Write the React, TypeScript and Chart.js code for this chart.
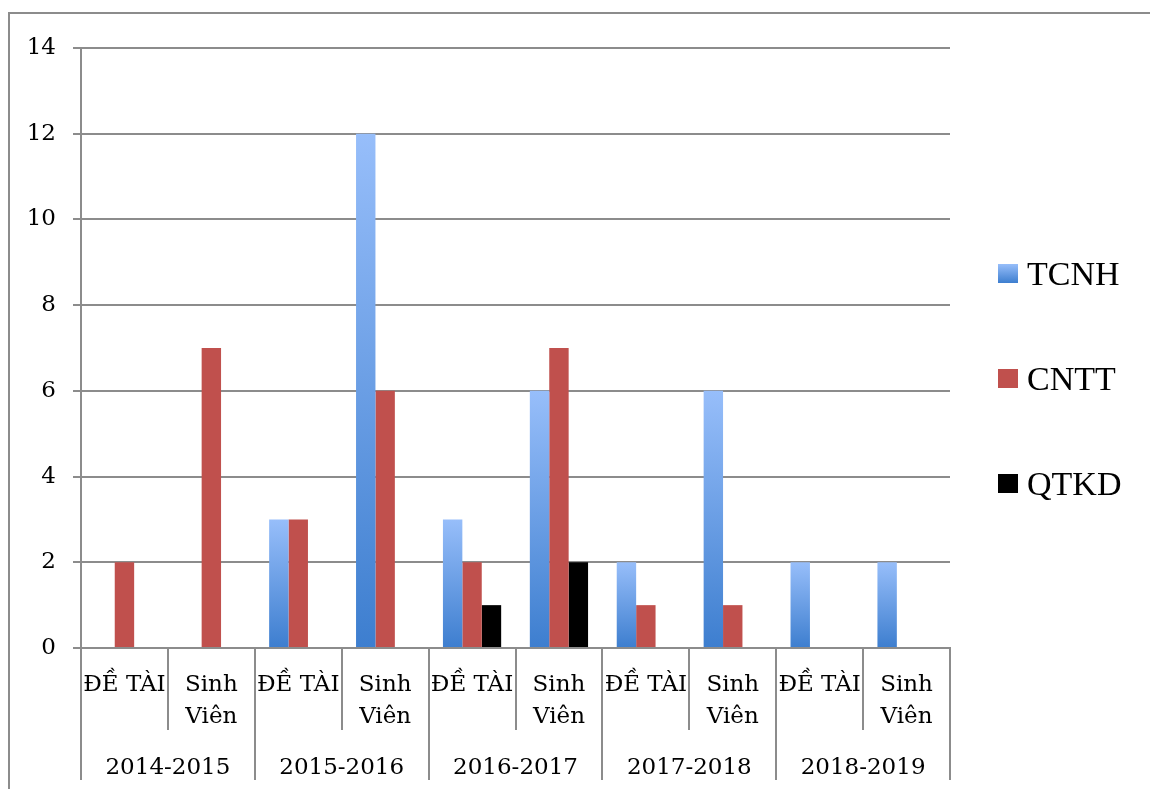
import React, { useEffect, useRef } from "react";
import { Chart, registerables } from "chart.js";

Chart.register(...registerables);

// ---- data ----
const subCategories: (string | string[])[] = [
  "ĐỀ TÀI", ["Sinh", "Viên"],
  "ĐỀ TÀI", ["Sinh", "Viên"],
  "ĐỀ TÀI", ["Sinh", "Viên"],
  "ĐỀ TÀI", ["Sinh", "Viên"],
  "ĐỀ TÀI", ["Sinh", "Viên"],
];
const years = ["2014-2015", "2015-2016", "2016-2017", "2017-2018", "2018-2019"];
const seriesNames = ["TCNH", "CNTT", "QTKD"];
const tcnhValues = [0, 0, 3, 12, 3, 6, 2, 6, 2, 2];
const cnttValues = [2, 7, 3, 6, 2, 7, 1, 1, 0, 0];
const qtkdValues = [0, 0, 0, 0, 1, 2, 0, 0, 0, 0];
const yMin = 0;
const yMax = 14;
const yStep = 2;

const GRID = "#8c8c8c";
const BLUE_TOP = "#97befa";
const BLUE_BOTTOM = "#3d7ecf";
const RED = "#c0504d";
const BLACK = "#000000";
const AXIS_FONT = { family: "'DejaVu Serif', serif", size: 23 };

function blueGradient(ctx: any) {
  const chart = ctx.chart;
  const { chartArea, scales } = chart;
  if (!chartArea || ctx.type !== "data" || !scales.y) return "#6a9fea";
  const v = ctx.raw as number;
  const top = scales.y.getPixelForValue(v);
  const base = scales.y.getPixelForValue(0);
  if (!(base > top)) return "#6a9fea";
  const g = chart.ctx.createLinearGradient(0, top, 0, base);
  g.addColorStop(0, BLUE_TOP);
  g.addColorStop(1, BLUE_BOTTOM);
  return g;
}

const sideLegend = {
  id: "sideLegend",
  afterDraw(chart: any) {
    const { ctx, chartArea } = chart;
    const x = chartArea.right + 48;
    const midY = (chartArea.top + chartArea.bottom) / 2 + 31;
    const gap = 105;
    const datasets = chart.data.datasets;
    ctx.save();
    datasets.forEach((ds: any, i: number) => {
      const cy = midY + (i - (datasets.length - 1) / 2) * gap;
      const bx = x, by = cy - 10, bw = 20, bh = 19;
      if (i === 0) {
        const g = ctx.createLinearGradient(0, by, 0, by + bh);
        g.addColorStop(0, BLUE_TOP);
        g.addColorStop(1, BLUE_BOTTOM);
        ctx.fillStyle = g;
      } else {
        ctx.fillStyle = ds.legendColor;
      }
      ctx.fillRect(bx, by, bw, bh);
      ctx.fillStyle = "#000";
      ctx.font = "34px 'Liberation Serif', serif";
      ctx.textBaseline = "middle";
      ctx.textAlign = "left";
      ctx.fillText(ds.label, bx + 29, cy + 2);
    });
    ctx.restore();
  },
};

export default function App() {
  const canvasRef = useRef<HTMLCanvasElement | null>(null);

  useEffect(() => {
    if (!canvasRef.current) return;
    const chart = new Chart(canvasRef.current, {
      type: "bar",
      data: {
        labels: subCategories as any,
        datasets: [
          { label: seriesNames[0], data: tcnhValues, backgroundColor: blueGradient as any, legendColor: BLUE_BOTTOM } as any,
          { label: seriesNames[1], data: cnttValues, backgroundColor: RED, legendColor: RED } as any,
          { label: seriesNames[2], data: qtkdValues, backgroundColor: BLACK, legendColor: BLACK } as any,
        ],
      },
      options: {
        responsive: false,
        animation: false,
        devicePixelRatio: 1,
        layout: { padding: { left: 0, top: 48, right: 200, bottom: 9 } },
        datasets: { bar: { categoryPercentage: 0.67, barPercentage: 1.0, borderWidth: 0 } },
        plugins: {
          legend: { display: false },
          tooltip: { enabled: false },
          title: { display: false },
        },
        scales: {
          y: {
            min: yMin,
            max: yMax,
            ticks: { stepSize: yStep, color: "#000", font: AXIS_FONT, padding: 17 },
            grid: { color: GRID, lineWidth: 2, tickLength: 8, drawTicks: true },
            border: { display: true, color: GRID, width: 2 },
            afterFit: (s: any) => { s.width = 81; },
          },
          x: {
            position: "bottom",
            weight: 0,
            offset: true,
            ticks: {
              color: "#000",
              font: { ...AXIS_FONT, lineHeight: 1.35 },
              padding: -60,
              autoSkip: false,
              maxRotation: 0,
              minRotation: 0,
            },
            grid: { offset: true, drawOnChartArea: false, color: GRID, lineWidth: 2, tickLength: 82 },
            border: { display: true, color: GRID, width: 2 },
            afterFit: (s: any) => { s.height = 82; },
          },
          x2: {
            type: "category",
            labels: years,
            position: "bottom",
            weight: 1,
            offset: true,
            ticks: {
              color: "#000",
              font: { ...AXIS_FONT, lineHeight: 1.2 },
              padding: -26,
              autoSkip: false,
              maxRotation: 0,
              minRotation: 0,
            },
            grid: { offset: true, drawOnChartArea: false, color: GRID, lineWidth: 2, tickLength: 50 },
            border: { display: false },
            afterFit: (s: any) => { s.height = 50; },
          },
        } as any,
      },
      plugins: [sideLegend],
    });
    return () => chart.destroy();
  }, []);

  return (
    <div style={{ position: "fixed", left: 0, top: 0, width: 1150, height: 789, background: "#fff", overflow: "hidden" }}>
      <canvas ref={canvasRef} width={1150} height={789} style={{ display: "block", width: 1150, height: 789 }} />
      <div
        style={{
          position: "absolute",
          left: 8,
          top: 12,
          width: 1200,
          height: 900,
          borderTop: `2px solid ${GRID}`,
          borderLeft: `2px solid ${GRID}`,
          pointerEvents: "none",
        }}
      />
    </div>
  );
}
